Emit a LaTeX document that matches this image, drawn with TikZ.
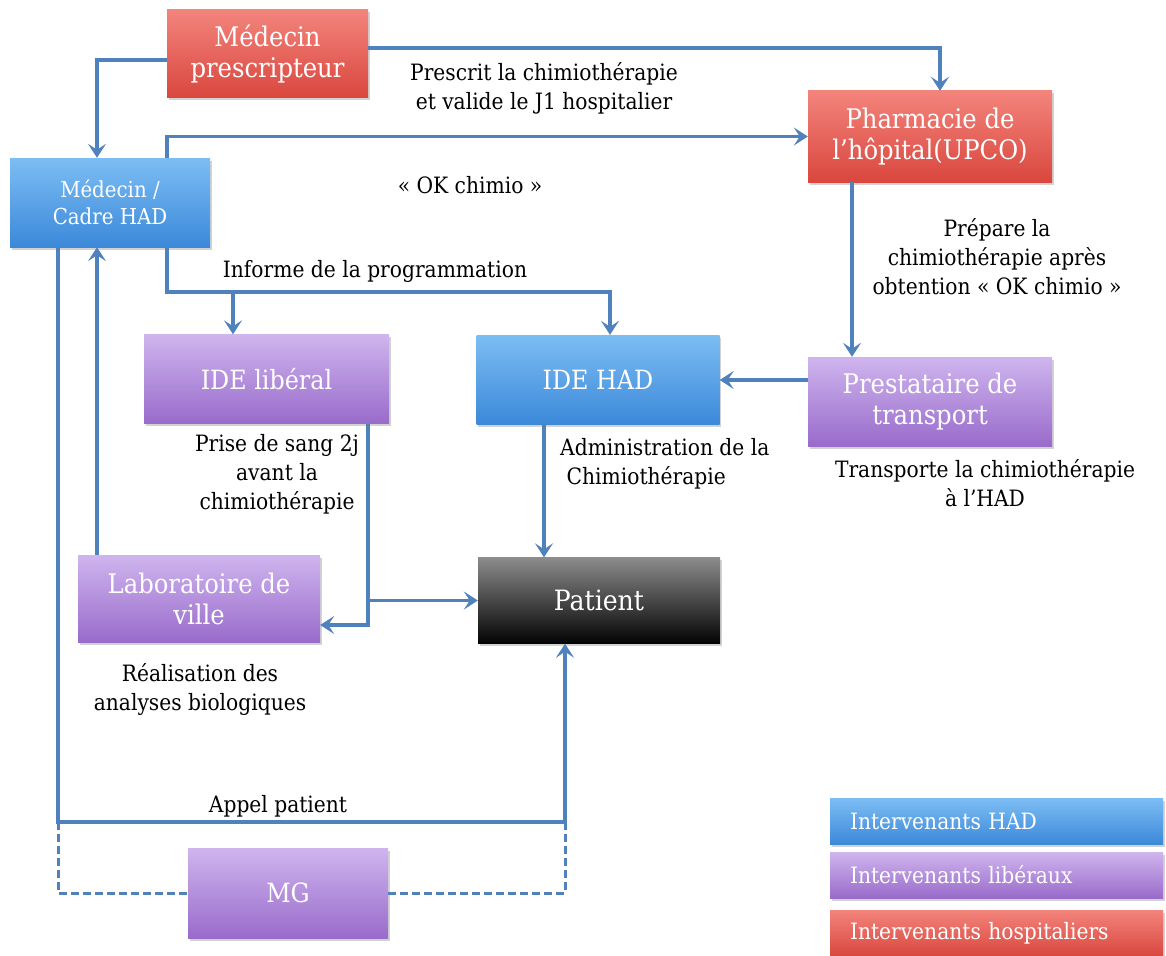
\documentclass[tikz,border=0pt]{standalone}
\usepackage{fontspec}
\setmainfont{DejaVu Serif Condensed}
\usetikzlibrary{arrows.meta,shadows,calc}
\definecolor{lineblue}{HTML}{4F81BD}
\definecolor{redT}{HTML}{F3847C}
\definecolor{redB}{HTML}{D9473E}
\definecolor{blueT}{HTML}{7CBDF3}
\definecolor{blueB}{HTML}{3C89DA}
\definecolor{purT}{HTML}{CFB5EE}
\definecolor{purB}{HTML}{996BCB}
\definecolor{patT}{HTML}{8C8C8C}
\definecolor{patB}{HTML}{030303}
\newcommand\szA{\fontsize{27}{31}\selectfont}
\newcommand\szB{\fontsize{22}{27}\selectfont}
\newcommand\szM{\fontsize{26.5}{30}\selectfont}
\newcommand\szC{\fontsize{22.5}{26}\selectfont}
\newcommand\szL{\fontsize{22.5}{29}\selectfont}
\tikzset{
  box/.style={rectangle, inner sep=0pt, text=white, align=center, font=\szA,
    drop shadow={opacity=0.35, shadow xshift=1.5pt, shadow yshift=-2.5pt}},
  redbox/.style={box, top color=redT, bottom color=redB},
  bluebox/.style={box, top color=blueT, bottom color=blueB},
  purbox/.style={box, top color=purT, bottom color=purB},
  patbox/.style={box, top color=patT, bottom color=patB},
  legbox/.style={box, font=\szC, align=left, text width=293pt, minimum width=333pt, minimum height=46pt},
  link/.style={draw=lineblue, line width=3.5pt},
  arr/.style={link, -{Stealth[length=14pt, width=18pt, inset=6pt]}},
  dashlink/.style={link, line width=3pt, dash pattern=on 8pt off 4pt},
  lbl/.style={text=black, align=center, font=\szL, inner sep=0pt}
}
\begin{document}
\begin{tikzpicture}[x=1pt,y=-1pt]
\useasboundingbox[fill=white] (0,0) rectangle (1166,955);

% boxes
\node[redbox, minimum width=201pt, minimum height=88pt] (mp) at (267.5,54) {Médecin\\prescripteur};
\node[redbox, minimum width=244pt, minimum height=91pt] (ph) at (930,136.5) {Pharmacie de\\l'hôpital(UPCO)};
\node[bluebox, font=\szB, minimum width=200pt, minimum height=89pt] (mc) at (110,202.5) {Médecin /\\Cadre HAD};
\node[purbox, font=\szM, minimum width=245pt, minimum height=89pt] (idel) at (266.5,379) {IDE libéral};
\node[bluebox, font=\szM, minimum width=243pt, minimum height=89pt] (ideh) at (598,379.5) {IDE HAD};
\node[purbox, minimum width=244pt, minimum height=89pt] (pt) at (930,401.5) {Prestataire de\\transport};
\node[purbox, minimum width=242pt, minimum height=87pt] (lab) at (199,598.5) {Laboratoire de\\ville};
\node[patbox, font=\fontsize{28}{32}\selectfont, minimum width=242pt, minimum height=86pt] (pat) at (599,600.5) {Patient};
\node[purbox, font=\szM, minimum width=200pt, minimum height=90pt] (mg) at (288,893) {MG};

% legend
\node[legbox, top color=blueT, bottom color=blueB] (lg1) at (996.5,821) {Intervenants HAD};
\node[legbox, top color=purT, bottom color=purB] (lg2) at (996.5,875) {Intervenants libéraux};
\node[legbox, top color=redT, bottom color=redB] (lg3) at (996.5,933) {Intervenants hospitaliers};

% labels
\node[lbl] (t1) at (544,88) {Prescrit la chimiothérapie\\et valide le J1 hospitalier};
\node[lbl] (t2) at (470,185) {« OK chimio »};
\node[lbl] (t3) at (375,271) {Informe de la programmation};
\node[lbl] (t4) at (997,257) {Prépare la\\chimiothérapie après\\obtention « OK chimio »};
\node[lbl] (t5) at (277,474) {Prise de sang 2j\\avant la\\chimiothérapie};
\node[lbl, align=left, anchor=west] (t6) at (560,464) {Administration de la\\\ Chimiothérapie};
\node[lbl] (t7) at (985,483) {Transporte la chimiothérapie\\à l’HAD};
\node[lbl] (t8) at (200,689) {Réalisation des\\analyses biologiques};
\node[lbl] (t9) at (278,806) {Appel patient};

% helper coordinates
\coordinate (bus) at (0,292);
\coordinate (appel) at (0,822);
\coordinate (ih) at ([xshift=12pt]ideh.north);
\coordinate (il) at ([xshift=-33.5pt]idel.north);
\coordinate (ptw) at ([yshift=21.5pt]pt.west);
\coordinate (ihs) at ([xshift=-54pt]ideh.south);
\coordinate (ils) at ([xshift=101.5pt]idel.south);
\coordinate (le) at ([yshift=-26.5pt]lab.east);
\coordinate (ln) at ([xshift=-102pt]lab.north);
\coordinate (ms) at ([xshift=-52pt]mc.south);
\coordinate (ps) at ([xshift=-34pt]pat.south);

% connectors
\draw[arr] ([yshift=6pt]mp.east) -| ([xshift=10pt]ph.north);
\draw[arr] ([yshift=-6pt]mp.west) -| ([xshift=-13pt]mc.north);
\draw[arr] ([xshift=57pt]mc.north) |- (ph.west);
\draw[arr] ([xshift=57pt]mc.south) |- (ih |- bus) -- (ih);
\draw[arr] (il |- bus) -- (il);
\draw[arr] ([xshift=-78pt]ph.south) -- ([xshift=-78pt]pt.north);
\draw[arr] (ptw) -- (ptw -| ideh.east);
\draw[arr] (ihs) -- (ihs |- pat.north);
\draw[arr] (ils) |- (le);
\draw[arr] (ils |- pat.west) -- (pat.west);
\draw[arr] (ln) -- (ln |- mc.south);
\draw[arr] (ms) |- (ps |- appel) -- (ps);
\draw[dashlink] (ms |- appel) |- (mg.west);
\draw[dashlink] (mg.east) -| (ps |- appel);
\end{tikzpicture}
\end{document}
